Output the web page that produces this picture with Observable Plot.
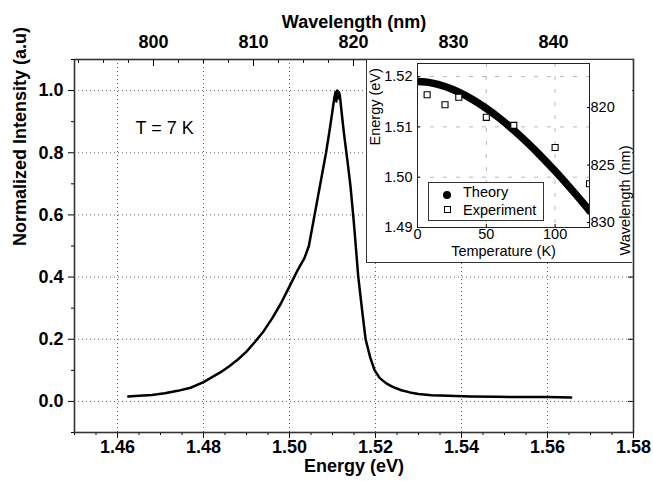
<!DOCTYPE html>
<html><head><meta charset="utf-8">
<script src="https://cdn.jsdelivr.net/npm/d3@7"></script>
<script src="https://cdn.jsdelivr.net/npm/@observablehq/plot@0.6"></script>
<style>
body{margin:0;background:#fff;}
#wrap{position:relative;width:653px;height:481px;overflow:hidden;font-family:"Liberation Sans",Arial,sans-serif;}
#wrap > *{position:absolute;}
#legend div{position:absolute;left:0;white-space:nowrap;}
</style></head><body><div id="wrap"></div>
<script>
// ---- Main spectrum ----
const energy = [1.4625,1.4650,1.4680,1.4710,1.4740,1.4770,1.4800,1.4820,1.4840,1.4860,1.4880,1.4900,1.4920,1.4940,1.4960,1.4980,1.5000,1.5020,1.5035,1.5045,1.5055,1.5065,1.5075,1.5085,1.5093,1.5100,1.5104,1.5107,1.5109,1.5111,1.5113,1.5115,1.5117,1.5119,1.5122,1.5126,1.5131,1.5136,1.5142,1.5150,1.5160,1.5170,1.5177,1.5188,1.5198,1.5210,1.5225,1.5240,1.5260,1.5280,1.5300,1.5330,1.5370,1.5420,1.5480,1.5550,1.5600,1.5655];
const intensity = [0.016,0.018,0.021,0.026,0.034,0.044,0.062,0.078,0.094,0.113,0.135,0.160,0.192,0.226,0.268,0.315,0.370,0.425,0.462,0.500,0.575,0.650,0.725,0.800,0.870,0.935,0.975,0.995,0.965,1.000,0.975,0.995,0.985,0.960,0.920,0.870,0.815,0.760,0.690,0.570,0.400,0.280,0.200,0.140,0.100,0.075,0.058,0.047,0.036,0.029,0.024,0.020,0.018,0.016,0.015,0.014,0.014,0.013];
const energyDomain = [1.45, 1.58];
const intensityDomain = [-0.1, 1.1];
const energyTicks = [1.46,1.48,1.50,1.52,1.54,1.56,1.58];
const energyGridTicks = [1.46,1.48,1.50,1.52,1.54,1.56];
const energyMinorTicks = d3.range(0,27).map(i => 1.45 + i*0.005);
const intensityTicks = [0,0.2,0.4,0.6,0.8,1.0];
const intensityMinorTicks = [-0.1,0.1,0.3,0.5,0.7,0.9,1.1];
const wavelengthDomain = [792.1, 848];
const wavelengthTicks = [800,810,820,830,840];
const wavelengthMinorTicks = d3.range(0,23).map(i => 792.5 + i*2.5);
const annotation = [{x:1.4642, y:0.88, t:"T = 7 K"}];

// ---- Inset ----
const theoryT = [0,10,20,30,40,50,60,70,80,90,100,110,120,125];
const theoryE = [1.5190,1.51875,1.51804,1.51692,1.51546,1.51368,1.51163,1.50933,1.50682,1.50411,1.50122,1.49817,1.49498,1.49333];
const expT = [7,20,30,50,70,100,125];
const expE = [1.5164,1.5144,1.5159,1.5119,1.5103,1.5059,1.4987];
const tempDomain = [0,125];
const insetEnergyDomain = [1.49, 1.5226];
const insetWavelengthDomain = [830.43, 816.17];
const tempTicks = [0,50,100];
const insetEnergyTicks = [1.49,1.50,1.51,1.52];
const insetWavelengthTicks = [820,825,830];

const FONT = "Liberation Sans, Arial, sans-serif";
const wrap = document.getElementById("wrap");
function place(el,left,top,parent){el.style.position="absolute";el.style.left=left+"px";el.style.top=top+"px";(parent||wrap).appendChild(el);return el;}

const spectrum = energy.map((e,i)=>({e, v:intensity[i]}));
const base = {width:653,height:481,marginLeft:74,marginRight:20,marginTop:59,marginBottom:49,
  style:{background:"transparent",fontFamily:FONT,fontSize:"18px",color:"#000",overflow:"visible"}};
const blank = () => "";

const main = Plot.plot({...base,
  x:{domain:energyDomain}, y:{domain:intensityDomain},
  marks:[
    Plot.gridX(energyGridTicks,{stroke:"#555",strokeOpacity:0.9,strokeDasharray:"1,3"}),
    Plot.gridY(intensityTicks,{stroke:"#555",strokeOpacity:0.9,strokeDasharray:"1,3"}),
    Plot.line(spectrum,{x:"e",y:"v",stroke:"#000",strokeWidth:2.5,strokeLinejoin:"round"}),
    Plot.text(annotation,{x:"x",y:"y",text:"t",textAnchor:"start",fontSize:18}),
    Plot.axisX(energyTicks,{anchor:"bottom",tickSize:6,tickPadding:2,tickFormat:d3.format(".2f"),fontSize:18,fontWeight:"bold",label:null}),
    Plot.axisX(energyMinorTicks,{anchor:"bottom",tickSize:3,tickFormat:blank,label:null}),
    Plot.axisY(intensityTicks,{anchor:"left",tickSize:6,tickPadding:5,tickFormat:d3.format(".1f"),fontSize:18,fontWeight:"bold",label:null}),
    Plot.axisY(intensityMinorTicks,{anchor:"left",tickSize:3,tickFormat:blank,label:null}),
    Plot.axisY(intensityTicks,{anchor:"right",tickSize:-6,tickFormat:blank,label:null}),
    Plot.frame({stroke:"#333",strokeWidth:1.6}),
    Plot.text(["Energy (eV)"],{frameAnchor:"bottom",dy:39,fontSize:18,fontWeight:"bold"}),
    Plot.text(["Normalized Intensity (a.u)"],{frameAnchor:"left",dx:-54,rotate:-90,fontSize:18,fontWeight:"bold"})
  ]});
place(main,0,0);

const topAxis = Plot.plot({...base,
  x:{domain:wavelengthDomain},
  marks:[
    Plot.axisX(wavelengthTicks,{anchor:"top",tickSize:0,tickPadding:12,fontSize:18,fontWeight:"bold",label:null}),
    Plot.axisX(wavelengthTicks,{anchor:"top",tickSize:-6,tickFormat:blank,label:null}),
    Plot.axisX(wavelengthMinorTicks,{anchor:"top",tickSize:-3,tickFormat:blank,label:null}),
    Plot.text(["Wavelength (nm)"],{frameAnchor:"top",dy:-44,fontSize:18,fontWeight:"bold"})
  ]});
place(topAxis,0,0);

// inset container
const box = document.createElement("div");
box.style.cssText = "width:266px;height:203px;box-sizing:border-box;background:#fff;border-left:1px solid #333;border-bottom:1px solid #333;";
place(box,366,60);

const insetBase = {width:265,height:202,marginLeft:50,marginRight:43,marginTop:3,marginBottom:35,
  style:{background:"transparent",fontFamily:FONT,fontSize:"15px",color:"#000",overflow:"visible"}};
const theory = theoryT.map((t,i)=>({t, e:theoryE[i]}));
const experiment = expT.map((t,i)=>({t, e:expE[i]}));

const inset = Plot.plot({...insetBase,
  x:{domain:tempDomain}, y:{domain:insetEnergyDomain},
  marks:[
    Plot.gridX(tempTicks,{stroke:"#888",strokeOpacity:0.6,strokeDasharray:"4,9"}),
    Plot.gridY(insetEnergyTicks,{stroke:"#888",strokeOpacity:0.6,strokeDasharray:"4,9"}),
    Plot.line(theory,{x:"t",y:"e",stroke:"#000",strokeWidth:7.5,curve:"monotone-x",clip:true}),
    Plot.dot(experiment,{x:"t",y:"e",symbol:"square",r:3.4,fill:"white",stroke:"#000",strokeWidth:1.1,clip:true}),
    Plot.axisX(tempTicks,{anchor:"bottom",tickSize:0,tickPadding:1,fontSize:14.5,label:null}),
    Plot.axisX(tempTicks,{anchor:"bottom",tickSize:-3,tickFormat:blank,label:null}),
    Plot.axisY(insetEnergyTicks,{anchor:"left",tickSize:0,tickPadding:5,tickFormat:d3.format(".2f"),fontSize:14.5,label:null}),
    Plot.axisY(insetEnergyTicks,{anchor:"left",tickSize:-3,tickFormat:blank,label:null}),
    Plot.frame({stroke:"#222",strokeWidth:1}),
    Plot.text(["Temperature (K)"],{frameAnchor:"bottom",dy:28.5,fontSize:14.5}),
    Plot.text(["Energy (eV)"],{frameAnchor:"left",dx:-42,rotate:-90,fontSize:14.5}),
    Plot.text(["Wavelength (nm)"],{frameAnchor:"right",dx:36,rotate:-90,fontSize:14.5})
  ]});
place(inset,0,0,box);

const insetRight = Plot.plot({...insetBase,
  y:{domain:insetWavelengthDomain},
  marks:[
    Plot.axisY(insetWavelengthTicks,{anchor:"right",tickSize:0,tickPadding:1,fontSize:14.5,label:null}),
    Plot.axisY(insetWavelengthTicks,{anchor:"right",tickSize:-3,tickFormat:blank,label:null})
  ]});
place(insetRight,0,0,box);

// legend
const legend = document.createElement("div");
legend.id = "legend";
legend.style.cssText = "width:116px;height:39px;box-sizing:border-box;border:1px solid #333;background:#fff;font-size:14.5px;font-family:'Liberation Sans',Arial,sans-serif;";
legend.innerHTML =
  '<div style="top:2px;left:14px;width:8px;height:8px;margin-top:6px;border-radius:50%;background:#000;"></div>' +
  '<div style="top:1px;left:34px;">Theory</div>' +
  '<div style="top:23px;left:15px;width:5px;height:5px;border:1px solid #000;background:#fff;"></div>' +
  '<div style="top:19px;left:34px;">Experiment</div>';
place(legend,61,122,box);
</script></body></html>
